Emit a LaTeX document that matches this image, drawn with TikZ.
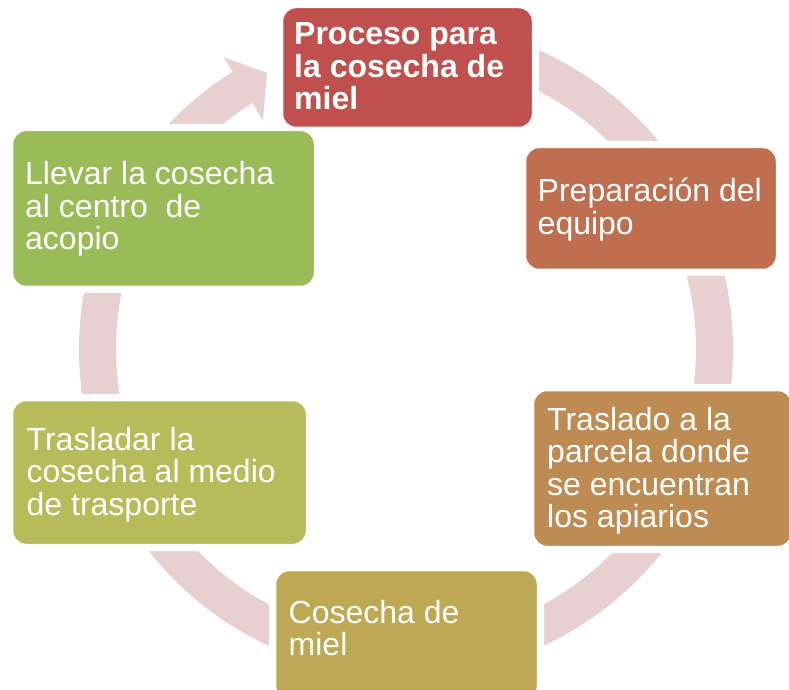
\documentclass[tikz,border=0pt]{standalone}
\usepackage{fontspec}
\setmainfont{Liberation Sans}
\usetikzlibrary{calc}
\definecolor{cA}{HTML}{C0504D}
\definecolor{cB}{HTML}{BF6F50}
\definecolor{cC}{HTML}{BE8B52}
\definecolor{cD}{HTML}{BFA853}
\definecolor{cE}{HTML}{B7BB5A}
\definecolor{cF}{HTML}{9BBB59}
\definecolor{ringc}{HTML}{E8CFD0}
\pgfdeclarelayer{ringlayer}
\pgfdeclarelayer{halolayer}
\pgfsetlayers{ringlayer,halolayer,main}
\tikzset{
  box/.style={draw=white, line width=2.5pt, rounded corners=14pt, outer sep=0pt, inner sep=0pt, anchor=south west},
  halo/.style={draw=white, fill=white, line width=12pt, rounded corners=14pt},
  txt/.style={text=white, inner sep=0pt, anchor=base west, font=\fontsize{32}{32.5}\selectfont},
  ringband/.style={draw=ringc, line width=37pt},
  ringhead/.style={fill=ringc, draw=none}
}
\begin{document}
\begin{tikzpicture}[x=1pt,y=1pt]
\useasboundingbox (0,0) rectangle (789,689);
\coordinate (c) at (406,340);
% boxes
\node[box, fill=cA, minimum width=251pt, minimum height=121pt] (b1) at (282,561) {};
\node[box, fill=cB, minimum width=252pt, minimum height=123pt] (b2) at (525,419) {};
\node[box, fill=cC, minimum width=259pt, minimum height=157pt] (b3) at (533,142) {};
\node[box, fill=cD, minimum width=263pt, minimum height=130pt] (b4) at (275,-11) {};
\node[box, fill=cE, minimum width=295pt, minimum height=145pt] (b5) at (12,144) {};
\node[box, fill=cF, minimum width=303pt, minimum height=157pt] (b6) at (12,402) {};
% halos and ring
\begin{pgfonlayer}{halolayer}
\foreach \b in {b1,b2,b3,b4,b5,b6}
  \path[halo] (\b.south west) rectangle (\b.north east);
\end{pgfonlayer}
\begin{pgfonlayer}{ringlayer}
\coordinate (rs) at ($(c)+(90:308.5pt)$);
\coordinate (hA) at ($(c)+(122:344pt)$);
\coordinate (hB) at ($(c)+(122:270pt)$);
\coordinate (hT) at ($(c)+(116.7:309pt)$);
\draw[ringband] (rs) arc[start angle=90, end angle=-238.3, radius=308.5pt];
\fill[ringhead] (hA) -- (hT) -- (hB) -- cycle;
\end{pgfonlayer}
% texts
\node[txt, font=\fontsize{32}{32.5}\selectfont\bfseries] (t1) at (294,644) {\vtop{\hbox{Proceso para}\hbox{la cosecha de}\hbox{miel}}};
\node[txt] (t2) at (537.5,487) {\vtop{\hbox{Preparación del}\hbox{equipo}}};
\node[txt] (t3) at (547,259) {\vtop{\hbox{Traslado a la}\hbox{parcela donde}\hbox{se encuentran}\hbox{los apiarios}}};
\node[txt] (t4) at (288.5,66) {\vtop{\hbox{Cosecha de}\hbox{miel}}};
\node[txt] (t5) at (26.5,239) {\vtop{\hbox{Trasladar la}\hbox{cosecha al medio}\hbox{de trasporte}}};
\node[txt] (t6) at (25,504) {\vtop{\hbox{Llevar la cosecha}\hbox{al centro~ de}\hbox{acopio}}};
\end{tikzpicture}
\end{document}
